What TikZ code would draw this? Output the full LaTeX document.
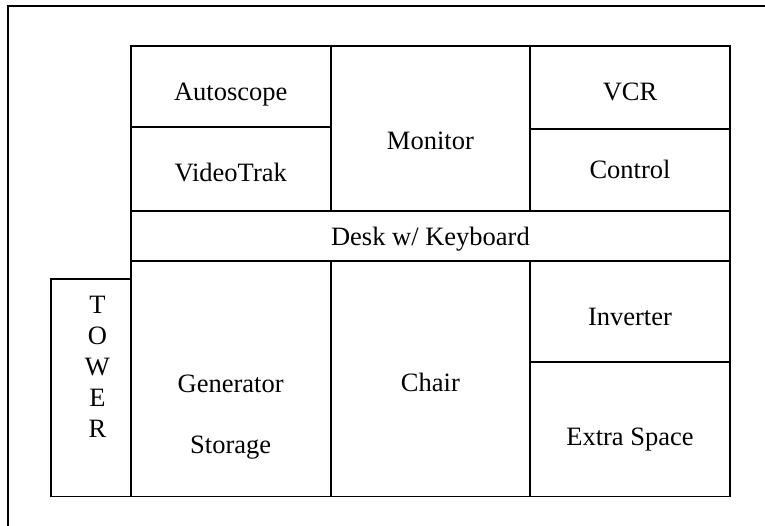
\documentclass[tikz,border=0pt]{standalone}
\usepackage{fontspec}
\setmainfont{Liberation Serif}
\usetikzlibrary{positioning}
\tikzstyle{cell} = [draw, line width=1.9pt]
\tikzstyle{lbl} = [anchor=base, inner sep=0pt, font=\fontsize{26.5}{31}\selectfont]

\begin{document}
\begin{tikzpicture}[x=1pt, y=-1pt]
\useasboundingbox (0,0) rectangle (765,525);
\clip (0,0) rectangle (765,525);
\draw[line width=2.2pt] (8,6) rectangle (800,560);
% top row
\draw[cell] (130.7,45.7) rectangle (330.7,126.7);
\draw[cell] (130.7,126.7) rectangle (330.7,210.7);
\draw[cell] (330.7,45.7) rectangle (530,210.7);
\draw[cell] (530,45.7) rectangle (730,129.3);
\draw[cell] (530,129.3) rectangle (730,210.7);
% desk
\draw[cell] (130.7,210.7) rectangle (730,261);
% bottom row
\draw[cell] (50.7,279) rectangle (130.7,496.5);
\draw[cell] (130.7,261) rectangle (330.7,496.5);
\draw[cell] (330.7,261) rectangle (530,496.5);
\draw[cell] (530,261) rectangle (730,362);
\draw[cell] (530,362) rectangle (730,496.5);
% labels
\node[lbl] (autoscope) at (230.7,100.7) {Autoscope};
\node[lbl] (videotrak) at (230.7,181.7) {VideoTrak};
\node[lbl] (monitor) at (430.4,149) {Monitor};
\node[lbl] (vcr) at (630,100) {VCR};
\node[lbl] (control) at (630,178) {Control};
\node[lbl] (desk) at (430.4,245) {Desk w/ Keyboard};
\node[lbl] (generator) at (230.7,392) {Generator};
\node[lbl] (storage) at (230.7,453) {Storage};
\node[lbl] (chair) at (430.4,391) {Chair};
\node[lbl] (inverter) at (630,325) {Inverter};
\node[lbl] (extra) at (630,445) {Extra Space};
\foreach \ch [count=\i] in {T,O,W,E,R}
  \node[lbl] (tower\i) at (97.5,282+31*\i) {\ch};
\end{tikzpicture}
\end{document}
